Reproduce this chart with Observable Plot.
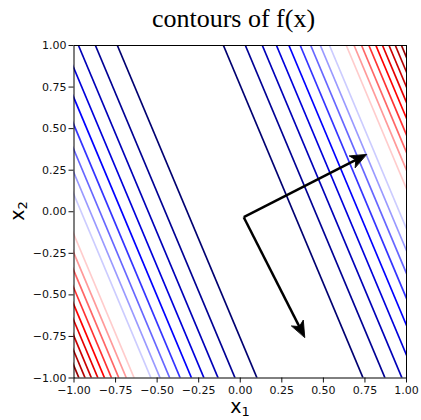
<!DOCTYPE html>
<html>
<head>
<meta charset="utf-8">
<script src="https://cdn.jsdelivr.net/npm/d3@7"></script>
<script src="https://cdn.jsdelivr.net/npm/@observablehq/plot@0.6"></script>
<style>
  html, body { margin: 0; padding: 0; background: #fff; }
  #chart { width: 421px; height: 420px; }
</style>
</head>
<body>
<div id="chart"></div>
<script>
// ---- data ----
const titleText = "contours of f(x)";
const tickValues = [-1, -0.75, -0.5, -0.25, 0, 0.25, 0.5, 0.75, 1];

// contour level index of each line (1 = closest to the valley, 19 = farthest)
const lineLevel = [1, 2, 3, 4, 5, 6, 7, 8, 9, 10, 11, 12, 13, 14, 15, 16, 17, 18, 19];
// lines on the upper-right side of the valley: x1 where the line meets x2 = 1 and x2 = -1
const rightAtTop    = [-0.101, 0.031, 0.133, 0.218, 0.293, 0.361, 0.424, 0.482, 0.537, 0.589, 0.638, 0.685, 0.730, 0.774, 0.816, 0.856, 0.895, 0.933, 0.970];
const rightAtBottom = [0.739, 0.871, 0.973, 1.058, 1.133, 1.201, 1.264, 1.322, 1.377, 1.429, 1.478, 1.525, 1.570, 1.614, 1.656, 1.696, 1.735, 1.773, 1.810];
// lines on the lower-left side of the valley
const leftAtTop     = [-0.739, -0.871, -0.973, -1.058, -1.133, -1.201, -1.264, -1.322, -1.377, -1.429, -1.478, -1.525, -1.570, -1.614, -1.656, -1.696, -1.735, -1.773, -1.810];
const leftAtBottom  = [0.101, -0.031, -0.133, -0.218, -0.293, -0.361, -0.424, -0.482, -0.537, -0.589, -0.638, -0.685, -0.730, -0.774, -0.816, -0.856, -0.895, -0.933, -0.970];

// the two arrows
const arrowStartX = [0.021, 0.021];
const arrowStartY = [-0.033, -0.033];
const arrowEndX   = [0.759, 0.388];
const arrowEndY   = [0.345, -0.755];

// seismic colormap stops
const cmapDomain = [0, 5, 10, 15, 20];
const cmapRange  = ["#00004d", "#0000ff", "#ffffff", "#ff0000", "#800000"];

// ---- build tables ----
const lines = [];
lineLevel.forEach((lv, i) => {
  lines.push({level: lv, xa: rightAtTop[i], ya: 1, xb: rightAtBottom[i], yb: -1});
  lines.push({level: lv, xa: leftAtTop[i], ya: 1, xb: leftAtBottom[i], yb: -1});
});
const arrows = arrowStartX.map((x, i) => ({
  x1: x, y1: arrowStartY[i], x2: arrowEndX[i], y2: arrowEndY[i],
  angle: Math.atan2(arrowEndX[i] - x, arrowEndY[i] - arrowStartY[i]) * 180 / Math.PI
}));

const headShape = {
  draw(context) {
    context.moveTo(0, 0);
    context.lineTo(-6.5, 16);
    context.lineTo(0, 12);
    context.lineTo(6.5, 16);
    context.closePath();
  }
};

const fmt = d => d3.format(".2f")(d);

const W = 421, H = 420;
const plot = Plot.plot({
  width: W,
  height: H,
  marginTop: 45,
  marginLeft: 73.5,
  marginRight: 15,
  marginBottom: 42.5,
  style: {fontFamily: "'DejaVu Sans', sans-serif", fontSize: "11px", color: "#111", background: "white"},
  x: {domain: [-1, 1], ticks: tickValues, tickFormat: fmt, tickSize: 5, tickPadding: 3, label: null},
  y: {domain: [-1, 1], ticks: tickValues, tickFormat: fmt, tickSize: 5, tickPadding: 2.5, label: null},
  color: {type: "linear", domain: cmapDomain, range: cmapRange, interpolate: "rgb"},
  marks: [
    Plot.link(lines, {x1: "xa", y1: "ya", x2: "xb", y2: "yb", stroke: "level", strokeWidth: 1.7, clip: true}),
    Plot.arrow(arrows, {x1: "x1", y1: "y1", x2: "x2", y2: "y2", stroke: "black", strokeWidth: 2.5, headLength: 0, insetEnd: 8, strokeLinecap: "butt"}),
    Plot.vector(arrows, {x: "x2", y: "y2", rotate: "angle", shape: headShape, anchor: "start", fill: "black", stroke: "black", strokeWidth: 0.8}),
    Plot.frame({stroke: "black", strokeWidth: 1})
  ]
});

document.getElementById("chart").appendChild(plot);

const svg = d3.select(plot);
svg.append("text")
  .attr("x", 233.5).attr("y", 27)
  .attr("text-anchor", "middle")
  .style("font-family", "'Liberation Serif', serif")
  .style("font-size", "26px")
  .attr("fill", "black")
  .text(titleText);

const xl = svg.append("text")
  .attr("x", 240).attr("y", 413)
  .attr("text-anchor", "middle")
  .style("font-family", "'DejaVu Sans', sans-serif")
  .style("font-size", "19px")
  .attr("fill", "black");
xl.append("tspan").text("x");
xl.append("tspan").attr("dy", 3).style("font-size", "13px").text("1");

const yl = svg.append("text")
  .attr("transform", "translate(24,211) rotate(-90)")
  .attr("text-anchor", "middle")
  .style("font-family", "'DejaVu Sans', sans-serif")
  .style("font-size", "19px")
  .attr("fill", "black");
yl.append("tspan").text("x");
yl.append("tspan").attr("dy", 3).style("font-size", "13px").text("2");
</script>
</body>
</html>
